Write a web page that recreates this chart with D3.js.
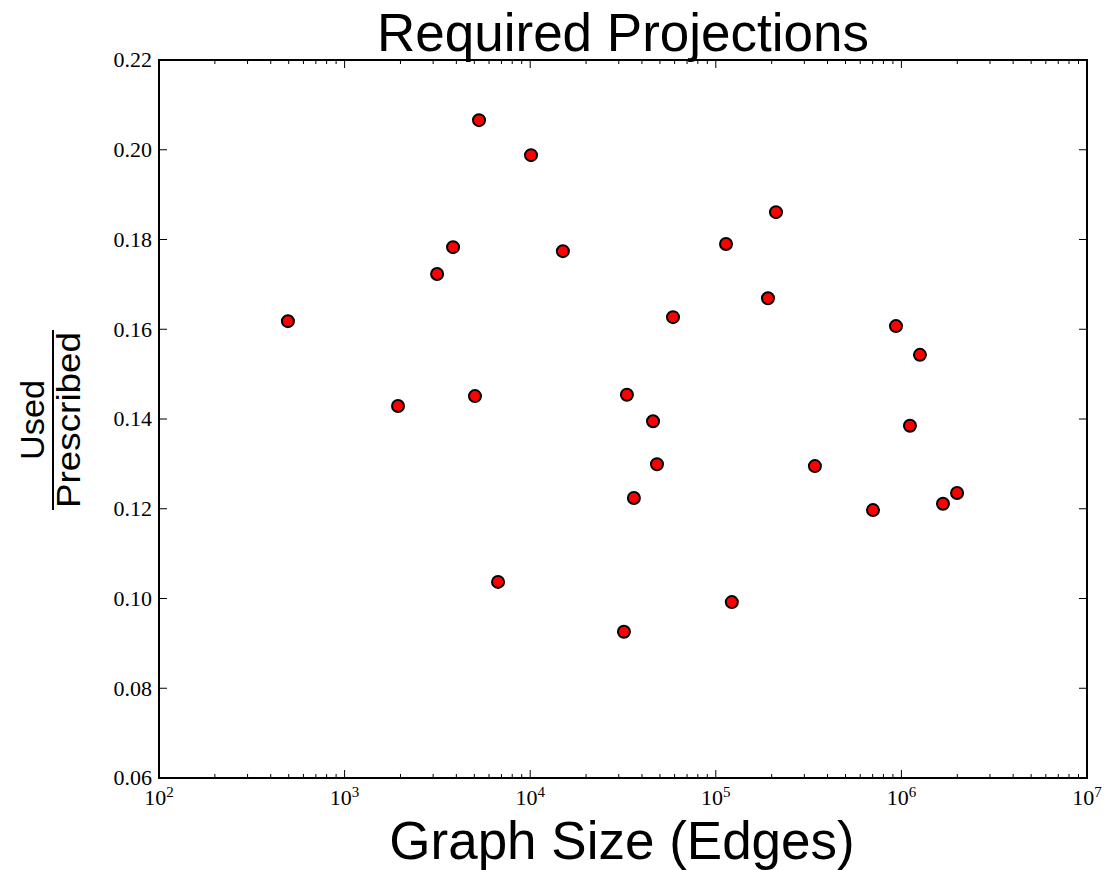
<!DOCTYPE html>
<html>
<head>
<meta charset="utf-8">
<script src="https://cdn.jsdelivr.net/npm/d3@7"></script>
<style>
  body { margin: 0; background: #fff; }
  svg text { fill: #000; }
  .tick-label { font-family: "Liberation Serif", "DejaVu Serif", serif; font-size: 22px; }
  .sans { font-family: "Liberation Sans", Arial, sans-serif; }
</style>
</head>
<body>
<div id="chart"></div>
<script>
// graph size (edges) and used/prescribed ratio
var edges = [495, 1940, 3150, 3840, 5040, 5300, 6710, 10100, 15000, 32000, 33200, 36200,
  45900, 48200, 58800, 113500, 122000, 191000, 211000, 342000, 703000, 935000,
  1112000, 1259000, 1675000, 1995000]
var ratio = [0.1618, 0.1429, 0.1723, 0.1783, 0.1451, 0.2066, 0.1037, 0.1988, 0.1774, 0.0926,
  0.1454, 0.1224, 0.1395, 0.1299, 0.1627, 0.1790, 0.0992, 0.1669, 0.1861, 0.1295,
  0.1197, 0.1607, 0.1385, 0.1543, 0.1211, 0.1235]

var yTicks = [0.06, 0.08, 0.10, 0.12, 0.14, 0.16, 0.18, 0.20, 0.22]
var xExps = [2, 3, 4, 5, 6, 7]

var points = edges.map((e, i) => ({e, r: ratio[i]}))

var W = 1105, H = 870
var margin = {left: 159, top: 60, right: W - 1087, bottom: H - 778}
var w = W - margin.left - margin.right
var h = H - margin.top - margin.bottom

var svg = d3.select('#chart').append('svg')
  .attr('width', W).attr('height', H)

var g = svg.append('g').attr('transform', `translate(${margin.left},${margin.top})`)

var x = d3.scaleLog().domain([1e2, 1e7]).range([0, w])
var y = d3.scaleLinear().domain([0.06, 0.22]).range([h, 0])

// minor ticks on the log axis
var minor = []
xExps.slice(0, -1).forEach(p => {
  d3.range(2, 10).forEach(m => minor.push(m*Math.pow(10, p)))
})

var tickG = g.append('g').attr('stroke', '#000').attr('stroke-width', 1)

// x ticks, bottom and top, pointing inward
xExps.forEach(p => {
  var xx = x(Math.pow(10, p))
  tickG.append('line').attr('x1', xx).attr('x2', xx).attr('y1', h).attr('y2', h - 8)
  tickG.append('line').attr('x1', xx).attr('x2', xx).attr('y1', 0).attr('y2', 8)
})
minor.forEach(v => {
  var xx = x(v)
  tickG.append('line').attr('x1', xx).attr('x2', xx).attr('y1', h).attr('y2', h - 4)
  tickG.append('line').attr('x1', xx).attr('x2', xx).attr('y1', 0).attr('y2', 4)
})
// y ticks, left and right
yTicks.forEach(v => {
  var yy = y(v)
  tickG.append('line').attr('x1', 0).attr('x2', 8).attr('y1', yy).attr('y2', yy)
  tickG.append('line').attr('x1', w).attr('x2', w - 8).attr('y1', yy).attr('y2', yy)
})

g.append('rect')
  .attr('width', w).attr('height', h)
  .attr('fill', 'none').attr('stroke', '#000').attr('stroke-width', 2)

// tick labels
g.selectAll('text.ylab').data(yTicks).join('text')
  .attr('class', 'tick-label ylab')
  .attr('x', -7).attr('y', d => y(d))
  .attr('dy', '0.33em')
  .attr('text-anchor', 'end')
  .text(d => d.toFixed(2))

var xl = g.selectAll('text.xlab').data(xExps).join('text')
  .attr('class', 'tick-label xlab')
  .attr('x', d => x(Math.pow(10, d)))
  .attr('y', h + 27)
  .attr('text-anchor', 'middle')
xl.append('tspan').text('10')
xl.append('tspan').attr('dy', -8).attr('font-size', 15).text(d => d)

// points
g.selectAll('circle').data(points).join('circle')
  .attr('cx', d => x(d.e))
  .attr('cy', d => y(d.r))
  .attr('r', 6)
  .attr('fill', '#ff0000')
  .attr('stroke', '#000')
  .attr('stroke-width', 2)

// title and axis labels
svg.append('text').attr('class', 'sans')
  .attr('x', margin.left + w/2).attr('y', 51)
  .attr('text-anchor', 'middle')
  .attr('font-size', 53)
  .text('Required Projections')

svg.append('text').attr('class', 'sans')
  .attr('x', margin.left + w/2 - 1).attr('y', 859)
  .attr('text-anchor', 'middle')
  .attr('font-size', 53)
  .text('Graph Size (Edges)')

var frac = svg.append('g').attr('transform', `translate(53,420) rotate(-90)`)
frac.append('text').attr('class', 'sans')
  .attr('x', 0).attr('y', -9)
  .attr('text-anchor', 'middle').attr('font-size', 33)
  .attr('textLength', 80).attr('lengthAdjust', 'spacingAndGlyphs')
  .text('Used')
frac.append('line')
  .attr('x1', -90).attr('x2', 90).attr('y1', 0).attr('y2', 0)
  .attr('stroke', '#000').attr('stroke-width', 2)
frac.append('text').attr('class', 'sans')
  .attr('x', 0).attr('y', 27)
  .attr('text-anchor', 'middle').attr('font-size', 33)
  .attr('textLength', 176).attr('lengthAdjust', 'spacingAndGlyphs')
  .text('Prescribed')
</script>
</body>
</html>
